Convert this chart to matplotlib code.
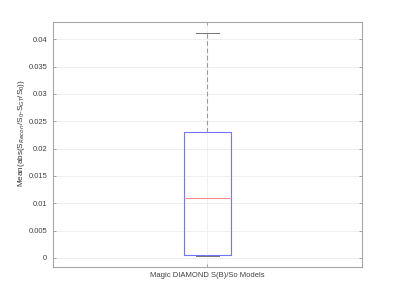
import matplotlib
matplotlib.use("Agg")
import matplotlib.pyplot as plt

category = ["Magic DIAMOND S(B)/So Models"]
whisker_low = [0.00042]
q1 = [0.00055]
median = [0.01092]
q3 = [0.02305]
whisker_high = [0.0411]
yticks = [0, 0.005, 0.01, 0.015, 0.02, 0.025, 0.03, 0.035, 0.04]

plt.rcParams['font.family'] = ['Liberation Sans', 'DejaVu Sans']
plt.rcParams['mathtext.fontset'] = 'custom'
plt.rcParams['mathtext.rm'] = 'Liberation Sans'

fig = plt.figure(figsize=(4, 3), dpi=100)
ax = fig.add_axes([0.132, 0.111, 0.773, 0.816])

stats = []
for i in range(len(category)):
    stats.append(dict(label=category[i], whislo=whisker_low[i], q1=q1[i], med=median[i],
                      q3=q3[i], whishi=whisker_high[i], fliers=[]))

ax.bxp(stats, positions=[1], widths=0.152, showfliers=False,
       boxprops=dict(color=(0.45, 0.45, 1.0), linewidth=0.8),
       medianprops=dict(color=(1.0, 0.55, 0.55), linewidth=0.8),
       whiskerprops=dict(color='0.6', linewidth=0.8, linestyle=(0, (4, 2.5))),
       capprops=dict(color='0.45', linewidth=0.7),
       capwidths=0.076)

ax.set_xlim(0.5, 1.5)
ax.set_ylim(-0.0016, 0.04317)
ax.set_yticks(yticks)
ax.set_yticklabels(['0', '0.005', '0.01', '0.015', '0.02', '0.025', '0.03', '0.035', '0.04'])
ax.set_xticks([1])
ax.set_xticklabels(category)
ax.grid(True, color='0.93', linewidth=0.6)
ax.set_axisbelow(True)
for s in ax.spines.values():
    s.set_color('0.65')
    s.set_linewidth(0.8)
ax.tick_params(direction='in', length=2.5, width=0.6, color='0.6', labelsize=5.5,
               labelcolor='0.25', right=True, top=True, pad=4)
ax.set_ylabel(r'Mean(abs(S$_{Recon}$/S$_0$-S$_{GT}$/S$_0$))', fontsize=5.9, color='0.2')
ax.yaxis.set_label_coords(-0.083, 0.546)

fig.savefig("out.png", dpi=100)
